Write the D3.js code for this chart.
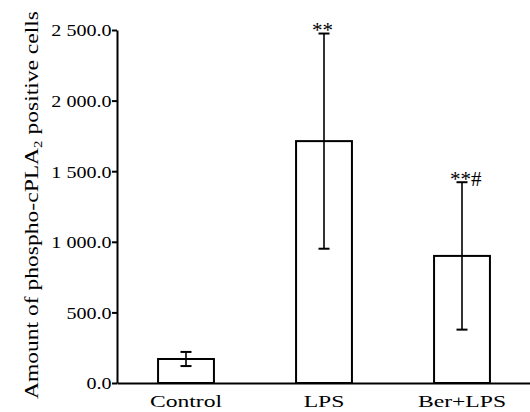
<!DOCTYPE html>
<html>
<head>
<meta charset="utf-8">
<script src="https://cdn.jsdelivr.net/npm/d3@7"></script>
<style>
  html, body { margin: 0; padding: 0; background: #fff; }
  svg { display: block; }
  text { font-family: "Liberation Serif", "Times New Roman", serif; fill: #000; }
</style>
</head>
<body>
<svg id="chart" width="530" height="412"></svg>
<script>
// ---- data ----
const categories = ["Control", "LPS", "Ber+LPS"];
const means = [170, 1713, 900];
const errors = [50, 762, 522];
const marks = ["", "**", "**#"];
const yTicks = [0, 500, 1000, 1500, 2000, 2500];
const yTitle = "Amount of phospho-cPLA";
const yTitleSub = "2";
const yTitleEnd = " positive cells";

// ---- layout ----
const x0 = 117, x1 = 531, yBottom = 383, yTop = 30;

const svg = d3.select("#chart");

const x = d3.scaleBand().domain(categories).range([x0, x1]).padding(0);
const y = d3.scaleLinear().domain([0, 2500]).range([yBottom, yTop]);

const locale = d3.formatLocale({ decimal: ".", thousands: " ", grouping: [3], currency: ["", ""] });
const fmt = locale.format(",.1f");

// bars
const barW = x.bandwidth() * 0.405;
svg.append("g").selectAll("rect").data(categories).join("rect")
  .attr("x", (d) => x(d) + x.bandwidth() / 2 - barW / 2)
  .attr("y", (d, i) => y(means[i]))
  .attr("width", barW)
  .attr("height", (d, i) => y(0) - y(means[i]))
  .attr("fill", "#fff")
  .attr("stroke", "#000")
  .attr("stroke-width", 2);

// error bars
const eg = svg.append("g").attr("stroke", "#000");
const cx = (d) => x(d) + x.bandwidth() / 2;
eg.selectAll("line.v").data(categories).join("line").attr("class", "v")
  .attr("x1", cx).attr("x2", cx)
  .attr("y1", (d, i) => y(means[i] + errors[i]))
  .attr("y2", (d, i) => y(means[i] - errors[i]))
  .attr("stroke-width", 1.6);
const capW = 11;
["top", "bot"].forEach((k) => {
  eg.selectAll("line." + k).data(categories).join("line").attr("class", k)
    .attr("x1", (d) => cx(d) - capW / 2).attr("x2", (d) => cx(d) + capW / 2)
    .attr("y1", (d, i) => y(k === "top" ? means[i] + errors[i] : means[i] - errors[i]))
    .attr("y2", (d, i) => y(k === "top" ? means[i] + errors[i] : means[i] - errors[i]))
    .attr("stroke-width", 2);
});

// significance marks
svg.append("g").selectAll("text").data(categories).join("text")
  .attr("x", (d) => cx(d) - 12)
  .attr("y", (d, i) => y(means[i] + errors[i]) + 3.5)
  .attr("font-size", 21)
  .text((d, i) => marks[i]);

// y axis
const yAxis = svg.append("g").attr("transform", `translate(${x0},0)`)
  .call(d3.axisLeft(y).tickValues(yTicks).tickFormat(fmt).tickSize(5).tickSizeOuter(0));
yAxis.select(".domain").attr("stroke-width", 2);
yAxis.selectAll(".tick line").attr("stroke-width", 2);
yAxis.selectAll(".tick text")
  .attr("x", 0).attr("dy", "0.35em")
  .attr("font-size", 17)
  .attr("font-family", "Liberation Serif")
  .attr("transform", "translate(-5.5,0) scale(1.18,1)");

// x axis
const xAxis = svg.append("g").attr("transform", `translate(0,${yBottom})`)
  .call(d3.axisBottom(x).tickSize(0).tickSizeOuter(0));
xAxis.select(".domain").attr("stroke-width", 2);
xAxis.selectAll(".tick text")
  .attr("y", 0).attr("dy", 0)
  .attr("font-size", 17.5)
  .attr("font-family", "Liberation Serif")
  .attr("transform", "translate(0,24) scale(1.35,1)");

// y title
const yt = svg.append("text")
  .attr("text-anchor", "middle")
  .attr("font-size", 19)
  .attr("transform", "translate(38,205) rotate(-90) scale(1.24,1)");
yt.append("tspan").text(yTitle);
yt.append("tspan").attr("font-size", 12).attr("dy", 4).text(yTitleSub);
yt.append("tspan").attr("dy", -4).text(yTitleEnd);
</script>
</body>
</html>
